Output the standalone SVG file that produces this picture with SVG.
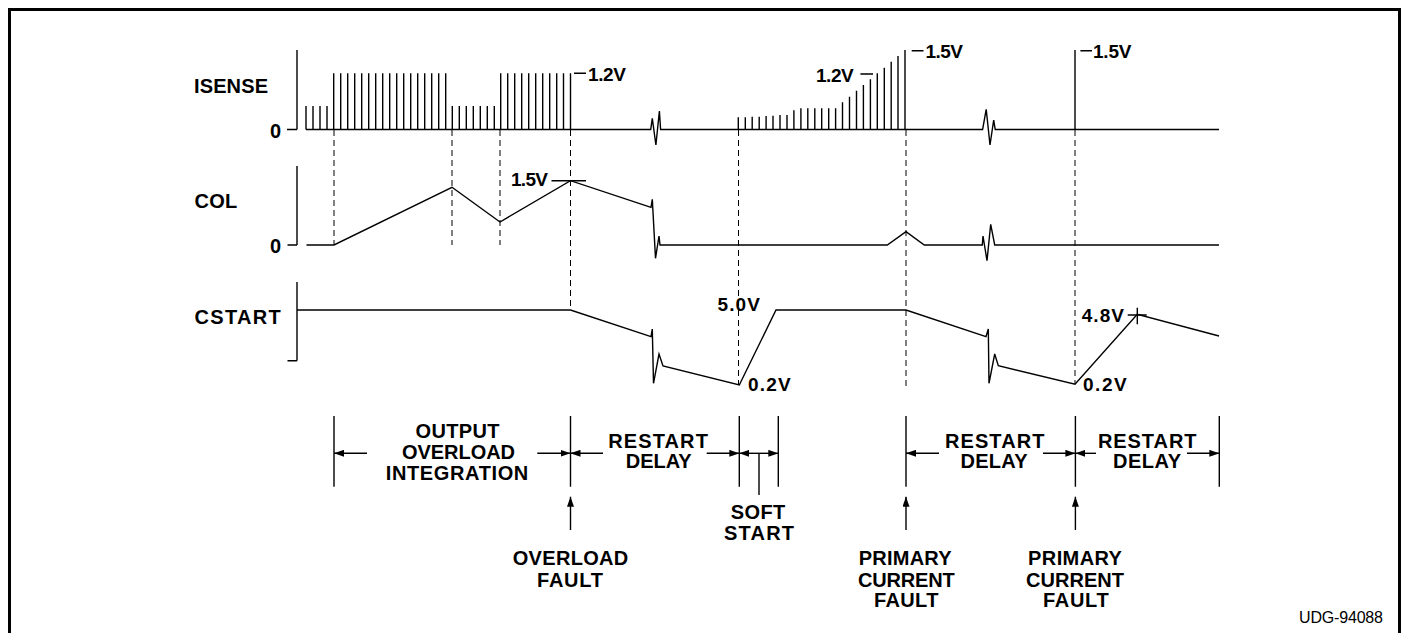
<svg xmlns="http://www.w3.org/2000/svg" width="1405" height="633" viewBox="0 0 1405 633">
<style>
.l{fill:none;stroke:#000;stroke-width:1.4}
.d{fill:none;stroke:#000;stroke-width:1;stroke-dasharray:6 4}
.t{fill:#000;stroke:none;font-family:"Liberation Sans",Arial,sans-serif;font-weight:700;font-size:20px}
.v{font-size:19px}
.c{text-anchor:middle}
.u{fill:#000;font-family:"Liberation Sans",Arial,sans-serif;font-size:16px}
</style>
<defs>
<marker id="a" viewBox="0 0 10 7" refX="10" refY="3.5" markerWidth="10" markerHeight="7" markerUnits="userSpaceOnUse" orient="auto"><path d="M0 0L10 3.5L0 7Z" fill="#000"/></marker>
</defs>
<rect width="1405" height="633" fill="#fff"/>
<path d="M9.5 633V9.5H1399.5V633" fill="none" stroke="#000" stroke-width="3"/>
<g id="connectors">
<path class="d" d="M334 130V245M452 130V245M500 130V245M570.5 130V310M738.5 130V385M906 130V387M1075 130V384"/>
<path class="l" d="M297 50V129.5M287 129.5H297M297 166V245M287.5 245H297M297 282V360.7M287.5 360.7H297"/>
<path class="l" id="isense-base" d="M306 129.5H650.7L652.3 118.3L655.9 145L659.4 111L660.6 129.5H982.6L986.2 109.3L990 145L993.7 120L995.2 129.5H1219"/>
<path class="l" id="isense-pulses" d="M306 129.5V106M313 129.5V106M320 129.5V106M327 129.5V106M333.7 129.5V73.3M340.7 129.5V73.3M347.7 129.5V73.3M354.7 129.5V73.3M361.7 129.5V73.3M368.7 129.5V73.3M375.7 129.5V73.3M382.7 129.5V73.3M389.7 129.5V73.3M396.7 129.5V73.3M403.7 129.5V73.3M410.7 129.5V73.3M417.7 129.5V73.3M424.7 129.5V73.3M431.7 129.5V73.3M438.7 129.5V73.3M445.7 129.5V73.3M452.3 129.5V106M459.3 129.5V106M466.3 129.5V106M473.3 129.5V106M480.3 129.5V106M487.3 129.5V106M494.3 129.5V106M500.7 129.5V73.3M507.7 129.5V73.3M514.7 129.5V73.3M521.7 129.5V73.3M528.7 129.5V73.3M535.7 129.5V73.3M542.7 129.5V73.3M549.7 129.5V73.3M556.7 129.5V73.3M563.5 129.5V73.3M570.5 129.5V73.3M738.3 129.5V117.3M745.3 129.5V117.3M752.2 129.5V116.7M759.2 129.5V116.7M766.1 129.5V116M773 129.5V115.7M780 129.5V115M787 129.5V115M793.9 129.5V110.3M800.9 129.5V108.3M807.8 129.5V108.3M814.8 129.5V108.3M821.7 129.5V108.3M828.7 129.5V108.3M835.6 129.5V108.3M842.5 129.5V102.3M849.5 129.5V96.7M856.5 129.5V90.7M863.4 129.5V85M870.4 129.5V79.3M877.3 129.5V73.3M884.3 129.5V67.7M891.2 129.5V61.7M898 129.5V56M905 129.5V50M1075 129.5V50"/>
<path class="l" id="col-trace" d="M306.5 245H334L452 187.3L500 222L570.5 180.7L651 207.3L652.3 199.3L655.5 258.3L659 236L660 245H887.3L906 231.7L924.3 245H982.3L983 236L987 260.7L990.7 224.3L994.7 245H1219"/>
<path class="l" id="cstart-trace" d="M297 310H570.5L651 336.7L652.3 329L653.5 383.3L659 354L663 366L739.3 385L776 310H906L986 336.7L988.3 329L989 383.3L994.7 354L998.3 365.7L1075 384.3L1137.3 314.3L1219 336"/>
<path class="l" id="ticks" d="M574 73.3H586M911.7 50.7H923.5M1080.4 50.7H1092M860.4 74H873M551.5 180.7H586M1127.7 315H1146.7M1137.3 307.7V324.3"/>
<path class="l" id="extents" d="M334 416V486.7M570.5 416V486.7M739.3 416V486.7M778.3 416V486.7M906 416V486.7M1075.4 416V486.7M1219.3 416V486.7M759 453.3V495"/>
<g class="l" marker-end="url(#a)">
<path d="M367 453.3H334"/><path d="M537.3 453.3H570.5"/><path d="M603 453.3H570.5"/><path d="M706.7 453.3H739.3"/><path d="M759 453.3H739.3"/><path d="M759 453.3H778.3"/><path d="M939 453.3H906"/><path d="M1043 453.3H1075.4"/><path d="M1096 453.3H1075.4"/><path d="M1187 453.3H1219.3"/>
<path d="M570.5 530V496.7"/><path d="M906 530V496.7"/><path d="M1075.4 530V496.7"/>
</g>
</g>
<g id="isense"><text class="t" x="194" y="92.7" textLength="74">ISENSE</text><text class="t" x="270" y="137.7">0</text></g>
<g id="col"><text class="t" x="194.6" y="208" textLength="42.5">COL</text><text class="t" x="270" y="253">0</text></g>
<g id="cstart"><text class="t" x="194.6" y="324" textLength="86">CSTART</text></g>
<g id="voltage-labels">
<text class="t v" x="588" y="81" textLength="38">1.2V</text><text class="t v" x="925.5" y="58.3" textLength="37.5">1.5V</text><text class="t v" x="1093" y="58.3" textLength="38.5">1.5V</text><text class="t v" x="816" y="81.7" textLength="37.7">1.2V</text><text class="t v" x="511" y="186" textLength="37">1.5V</text><text class="t v" x="717.5" y="311" textLength="42.5">5.0V</text><text class="t v" x="748" y="390.7" textLength="42.7">0.2V</text><text class="t v" x="1081.7" y="321.7" textLength="42.3">4.8V</text><text class="t v" x="1083" y="390.7" textLength="43.7">0.2V</text>
</g>
<g id="overload-integration" class="t c"><text x="457.5" y="437.7" textLength="84">OUTPUT</text><text x="458.5" y="459.3" textLength="113">OVERLOAD</text><text x="457" y="480" textLength="142.6">INTEGRATION</text></g>
<g id="restart-1" class="t c"><text x="658" y="447.7" textLength="99.7">RESTART</text><text x="658.7" y="468.3" textLength="66">DELAY</text></g>
<g id="soft-start" class="t c"><text x="758" y="519.3" textLength="54.3">SOFT</text><text x="759" y="540" textLength="70">START</text></g>
<g id="restart-2" class="t c"><text x="994.7" y="447.7" textLength="99.5">RESTART</text><text x="994" y="468.3" textLength="67">DELAY</text></g>
<g id="restart-3" class="t c"><text x="1147.2" y="447.7" textLength="98.6">RESTART</text><text x="1147" y="468.3" textLength="68">DELAY</text></g>
<g id="overload-fault" class="t c"><text x="570.5" y="565" textLength="115.6">OVERLOAD</text><text x="570" y="586.7" textLength="66">FAULT</text></g>
<g id="primary-fault-1" class="t c"><text x="905.2" y="565" textLength="92.8">PRIMARY</text><text x="906.3" y="586.7" textLength="96.7">CURRENT</text><text x="906.2" y="607.3" textLength="64.5">FAULT</text></g>
<g id="primary-fault-2" class="t c"><text x="1075" y="565" textLength="93.9">PRIMARY</text><text x="1075" y="586.7" textLength="98">CURRENT</text><text x="1075.8" y="607.3" textLength="65.7">FAULT</text></g>
<text id="figure-code" class="u" x="1299" y="623" textLength="84">UDG-94088</text>
</svg>
